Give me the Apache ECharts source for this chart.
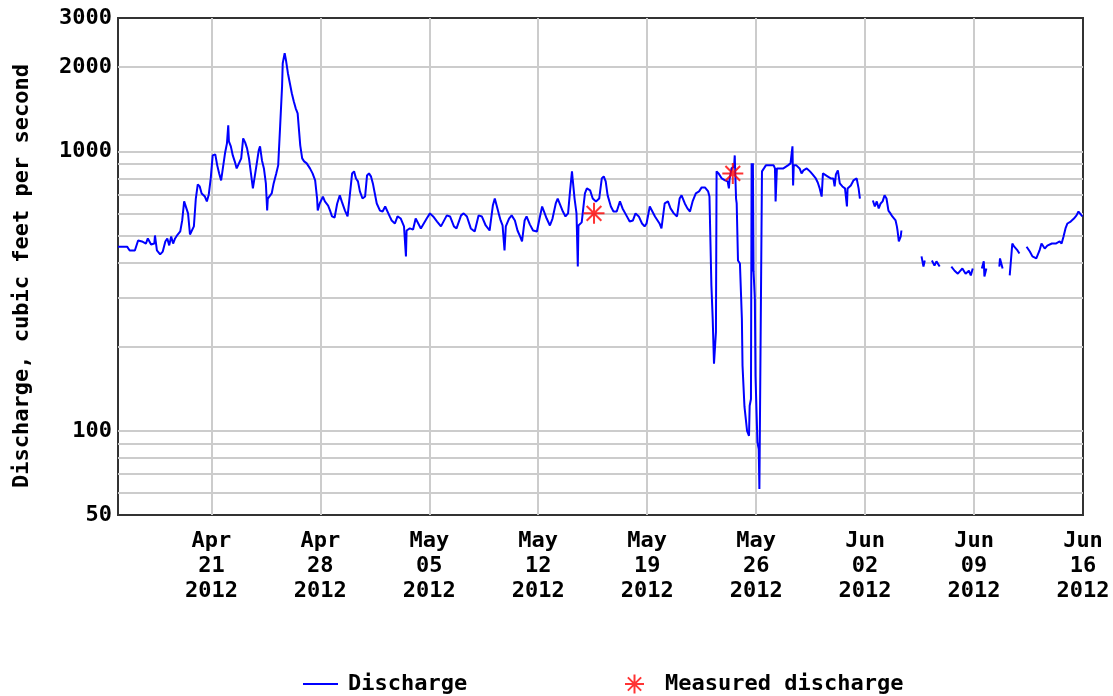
<!DOCTYPE html>
<html><head><meta charset="utf-8">
<script src="https://cdn.jsdelivr.net/npm/echarts@6/dist/echarts.min.js"></script>
<style>html,body{margin:0;padding:0;background:#fff}#c{width:1113px;height:696px}</style>
</head><body><div id="c"></div><script>
// ---------- DATA ----------
const yearLabel = 2012;
const xMin = '04-15 00';
const xMax = '06-16 00';
const xTickDates = ['04-21','04-28','05-05','05-12','05-19','05-26','06-02','06-09','06-16'];
const yTickLabels = [50, 100, 1000, 2000, 3000];
const yMinorGrid = [60, 70, 80, 90, 200, 300, 400, 500, 600, 700, 800, 900];
const yMin = 50, yMax = 3000;
const yTitle = 'Discharge, cubic feet per second';
const seriesNames = ['Discharge', 'Measured discharge'];

// measured discharge (field measurements)
const measured = [['05-15 14', 600], ['05-24 12', 834]];

// discharge time series, cubic feet per second (null = gap in record)
const discharge = [
['04-15 00',456],['04-15 14',456],['04-15 18',442],['04-16 02',442],['04-16 07',480],['04-16 13',476],['04-16 19',468],['04-16 22',488],
['04-17 03',464],['04-17 08',468],['04-17 09',500],['04-17 12',442],['04-17 17',428],['04-17 21',438],['04-18 01',476],['04-18 04',488],
['04-18 07',461],['04-18 10',496],['04-18 13',468],['04-18 16',488],['04-18 20',504],['04-19 00',517],['04-19 03',566],['04-19 06',662],
['04-19 09',667],['04-19 12',600],['04-19 15',504],['04-19 18',500],['04-19 21',539],['04-20 00',678],['04-20 03',762],['04-20 06',749],
['04-20 09',707],['04-20 14',689],['04-20 17',662],['04-20 20',701],['04-20 23',800],['04-21 02',967],['04-21 06',975],['04-21 09',891],
['04-21 12',834],['04-21 15',787],['04-21 18',781],['04-21 21',984],['04-22 00',1068],['04-22 02',1239],['04-22 03',1086],['04-22 06',1042],
['04-22 09',967],['04-22 12',921],['04-22 15',869],['04-22 18',855],['04-22 22',944],['04-23 01',1113],['04-23 04',1077],['04-23 07',1025],
['04-23 10',944],['04-23 13',834],['04-23 16',737],['04-23 19',725],['04-23 22',906],['04-24 01',1008],['04-24 03',1042],['04-24 06',928],
['04-24 09',869],['04-24 12',768],['04-24 14',614],['04-24 15',678],['04-24 18',689],['04-24 21',707],['04-25 00',768],['04-25 04',834],
['04-25 07',891],['04-25 10',1229],['04-25 13',1710],['04-25 14',2067],['04-25 17',2245],['04-25 19',2119],['04-25 22',1904],['04-26 01',1753],
['04-26 04',1614],['04-26 07',1511],['04-26 10',1426],['04-26 13',1368],['04-26 17',1051],['04-26 20',944],['04-26 23',921],['04-27 03',906],
['04-27 08',869],['04-27 12',834],['04-27 16',787],['04-27 19',678],['04-27 20',614],['04-27 23',651],['04-28 04',689],['04-28 07',662],
['04-28 12',640],['04-28 15',614],['04-28 18',585],['04-28 22',580],['04-29 02',651],['04-29 06',696],['04-29 09',662],['04-29 14',614],
['04-29 18',585],['04-29 21',590],['04-30 01',834],['04-30 04',848],['04-30 07',800],['04-30 10',781],['04-30 13',719],['04-30 17',678],
['04-30 21',689],['05-01 00',820],['05-01 03',834],['05-01 06',814],['05-01 09',768],['05-01 12',707],['05-01 15',651],['05-01 20',614],
['05-02 00',609],['05-02 04',635],['05-02 07',635],['05-02 11',585],['05-02 14',566],['05-02 19',552],['05-02 23',585],['05-03 04',575],
['05-03 09',539],['05-03 12',421],['05-03 13',521],['05-03 18',530],['05-03 23',525],['05-04 03',575],['05-04 06',570],['05-04 11',530],
['05-04 14',525],['05-04 20',575],['05-05 01',600],['05-05 06',585],['05-05 12',561],['05-05 18',539],['05-05 21',543],['05-06 03',590],
['05-06 08',585],['05-06 14',539],['05-06 18',530],['05-07 01',590],['05-07 05',600],['05-07 10',585],['05-07 16',530],['05-07 22',517],
['05-08 04',590],['05-08 09',585],['05-08 15',543],['05-08 21',521],['05-09 02',640],['05-09 05',678],['05-09 08',689],['05-09 11',600],
['05-09 14',566],['05-09 17',543],['05-09 20',442],['05-09 22',539],['05-10 03',575],['05-10 07',590],['05-10 12',566],['05-10 16',521],
['05-10 20',496],['05-10 23',476],['05-11 03',566],['05-11 06',585],['05-11 11',548],['05-11 16',521],['05-11 22',517],['05-12 02',575],
['05-12 06',635],['05-12 09',625],['05-12 13',575],['05-12 18',543],['05-12 22',575],['05-13 03',651],['05-13 06',678],['05-13 09',667],
['05-13 14',609],['05-13 18',585],['05-13 22',600],['05-14 01',719],['05-14 04',848],['05-14 05',800],['05-14 08',678],['05-14 11',600],
['05-14 13',387],['05-14 14',543],['05-14 19',557],['05-15 00',707],['05-15 03',737],['05-15 08',725],['05-15 12',678],['05-15 17',662],
['05-15 22',678],['05-16 02',800],['05-16 05',814],['05-16 08',781],['05-16 11',696],['05-16 16',635],['05-16 20',609],['05-17 01',609],
['05-17 06',662],['05-17 10',625],['05-17 15',595],['05-17 21',561],['05-18 02',566],['05-18 06',600],['05-18 11',585],['05-18 16',552],
['05-18 20',539],['05-18 23',552],['05-19 04',635],['05-19 07',625],['05-19 12',585],['05-19 16',566],['05-19 19',552],['05-19 22',530],
['05-20 03',651],['05-20 08',662],['05-20 12',625],['05-20 17',600],['05-20 22',585],['05-21 02',678],['05-21 05',696],['05-21 10',651],
['05-21 14',625],['05-21 18',609],['05-21 22',662],['05-22 03',707],['05-22 08',719],['05-22 12',743],['05-22 17',743],['05-22 22',719],
['05-23 00',689],['05-23 02',678],['05-23 03',331],['05-23 05',252],['05-23 07',174],['05-23 08',174],['05-23 10',226],['05-23 11',848],
['05-23 14',834],['05-23 19',800],['05-24 00',787],['05-24 04',781],['05-24 06',737],['05-24 07',794],['05-24 10',869],['05-24 14',883],
['05-24 15',967],['05-24 17',678],['05-24 18',651],['05-24 20',407],['05-24 23',397],['05-25 02',252],['05-25 03',171],['05-25 06',122],
['05-25 10',100],['05-25 13',96],['05-25 14',123],['05-25 16',130],['05-25 17',906],['05-25 18',372],['05-25 19',906],['05-25 20',372],
['05-25 22',297],['05-25 23',157],['05-26 01',156],['05-26 02',91],['05-26 04',86],['05-26 05',62],['05-26 07',61],['05-26 08',61],
['05-26 09',848],['05-26 12',869],['05-26 15',891],['05-26 21',891],['05-27 03',891],['05-27 05',869],['05-27 06',662],['05-27 08',869],
['05-27 12',869],['05-27 18',869],['05-28 01',891],['05-28 05',906],['05-28 08',1042],['05-28 09',755],['05-28 10',891],['05-28 14',891],
['05-28 19',869],['05-28 22',834],['05-29 01',855],['05-29 06',869],['05-29 11',848],['05-29 15',827],['05-29 20',800],['05-29 23',774],
['05-30 02',737],['05-30 05',689],['05-30 07',834],['05-30 10',834],['05-30 14',814],['05-30 19',800],['05-30 23',800],['05-31 01',749],
['05-31 03',827],['05-31 06',855],['05-31 09',768],['05-31 13',749],['05-31 17',737],['05-31 20',635],['05-31 21',737],['06-01 02',755],
['06-01 06',787],['06-01 11',800],['06-01 14',737],['06-01 16',678],['06-02 00',null],
['06-02 12',667],['06-02 15',635],['06-02 18',662],['06-02 21',625],['06-03 00',651],['06-03 03',662],['06-03 06',696],['06-03 09',678],
['06-03 12',614],['06-03 15',600],['06-03 18',585],['06-03 23',566],['06-04 01',539],['06-04 02',521],['06-04 04',476],['06-04 07',496],
['06-04 08',521],['06-04 12',null],
['06-05 11',449],['06-05 12',449],['06-05 13',null],
['06-05 15',421],['06-05 18',387],['06-05 20',407],['06-05 23',null],
['06-06 07',407],['06-06 11',390],['06-06 14',404],['06-06 19',387],['06-07 00',null],
['06-07 13',387],['06-07 18',374],['06-07 23',365],['06-08 02',372],['06-08 06',381],['06-08 11',365],['06-08 16',374],['06-08 19',360],
['06-08 22',381],['06-09 02',null],
['06-09 12',381],['06-09 15',404],['06-09 16',357],['06-09 19',381],['06-09 23',null],
['06-10 15',387],['06-10 16',414],['06-10 20',381],['06-11 00',null],
['06-11 07',360],['06-11 11',468],['06-11 14',456],['06-11 19',442],['06-11 22',431],['06-12 02',null],
['06-12 09',456],['06-12 14',438],['06-12 18',421],['06-13 00',414],['06-13 05',442],['06-13 08',468],['06-13 13',449],['06-13 17',460],
['06-14 00',468],['06-14 06',468],['06-14 12',476],['06-14 15',468],['06-14 18',496],['06-14 21',530],['06-15 00',552],['06-15 05',561],
['06-15 10',575],['06-15 14',590],['06-15 17',609],['06-15 20',609],['06-15 23',585]
];

// ---------- BUILD ----------
const monthNames = {'04': 'Apr', '05': 'May', '06': 'Jun'};
function ts(s) {
  const parts = s.split(' ');
  const md = parts[0].split('-');
  return new Date(yearLabel, Number(md[0]) - 1, Number(md[1]), parts[1] ? Number(parts[1]) : 0).getTime();
}
const FONT = '"DejaVu Sans Mono", "Liberation Mono", monospace';
const textBase = {fontFamily: FONT, fontWeight: 'bold', fontSize: 22, color: '#000'};
const STAR = 'path://M10,0L10,20M0,10L20,10M3,3L17,17M3,17L17,3';
const GRID_COLOR = '#cccccc';
const HIDDEN = 'rgba(0,0,0,0)';

const gridLines = [];
yMinorGrid.forEach(v => gridLines.push({yAxis: v}));
yTickLabels.forEach(v => gridLines.push({
  yAxis: v,
  lineStyle: {color: (v === yMin || v === yMax) ? HIDDEN : GRID_COLOR, width: 2, type: 'solid'},
  label: Object.assign({show: true, position: 'start', distance: 6, formatter: String(v)}, textBase)
}));
xTickDates.forEach(d => {
  const md = d.split('-');
  gridLines.push({
    xAxis: ts(d),
    lineStyle: {color: ts(d) === ts(xMax) ? HIDDEN : GRID_COLOR, width: 2, type: 'solid'},
    label: Object.assign({show: true, position: 'start', distance: 14, lineHeight: 25,
      formatter: monthNames[md[0]] + '\n' + md[1] + '\n' + yearLabel}, textBase)
  });
});

const chart = echarts.init(document.getElementById('c'));
chart.setOption({
  animation: false,
  grid: {left: 118, right: 30, top: 18, bottom: 181, show: true, borderColor: '#333', borderWidth: 2, backgroundColor: 'transparent'},
  xAxis: {type: 'time', min: ts(xMin), max: ts(xMax),
    axisLine: {show: false}, axisTick: {show: false}, axisLabel: {show: false}, splitLine: {show: false}},
  yAxis: {type: 'log', logBase: 10, min: yMin, max: yMax,
    axisLine: {show: false}, axisTick: {show: false}, axisLabel: {show: false}, splitLine: {show: false}},
  graphic: [{
    type: 'text', x: 22, y: 276, rotation: Math.PI / 2, silent: true,
    style: {text: yTitle, fill: '#000', font: 'bold 22px ' + FONT,
      textAlign: 'center', textVerticalAlign: 'middle', align: 'center', verticalAlign: 'middle'}
  }],
  legend: [
    {left: 298, top: 668, itemWidth: 35, itemHeight: 2, selectedMode: false,
      data: [{name: seriesNames[0], icon: 'rect', itemStyle: {color: '#0000ff'}}],
      textStyle: Object.assign({padding: [0, 0, 0, 5]}, textBase)},
    {left: 619, top: 668, itemWidth: 35, itemHeight: 19, selectedMode: false,
      data: [{name: seriesNames[1], icon: STAR,
        itemStyle: {color: '#ff0000', borderColor: '#ff0000', borderWidth: 2}}],
      textStyle: Object.assign({padding: [0, 0, 0, 8]}, textBase)}
  ],
  series: [
    {type: 'line', name: 'gridlines', data: [], silent: true, z: 1,
      markLine: {silent: true, z: 1, symbol: ['none', 'none'], animation: false,
        lineStyle: {color: GRID_COLOR, width: 2, type: 'solid'}, label: {show: false},
        emphasis: {disabled: true}, data: gridLines}},
    {type: 'line', name: seriesNames[0], z: 3, showSymbol: false, symbol: 'none',
      lineStyle: {color: '#0000ff', width: 2}, itemStyle: {color: '#0000ff'},
      data: discharge.map(d => [ts(d[0]), d[1] == null ? '-' : d[1]])},
    {type: 'scatter', name: seriesNames[1], z: 4, symbol: STAR, symbolSize: 21,
      itemStyle: {color: '#ff0000', borderColor: '#ff0000', borderWidth: 2},
      data: measured.map(d => [ts(d[0]), d[1]])}
  ]
});
</script></body></html>
